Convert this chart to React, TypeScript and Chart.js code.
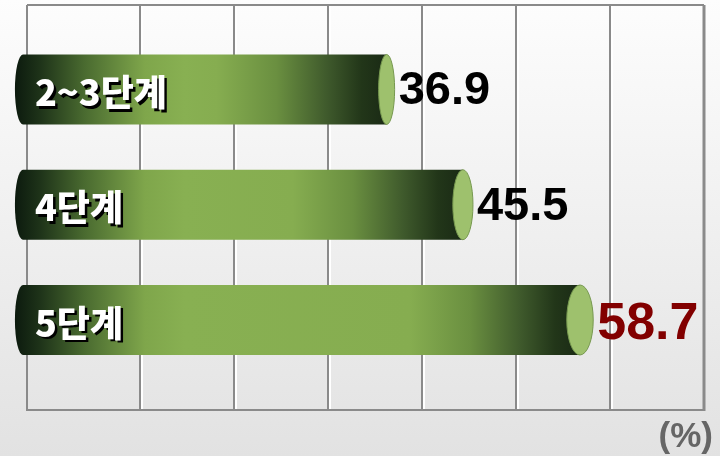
import React, { useEffect, useRef } from "react";
import { Chart, registerables } from "chart.js";

Chart.register(...registerables);

const categories = ["2~3단계", "4단계", "5단계"];
const values = [36.9, 45.5, 58.7];
const gridTicks = [9.1, 19.7, 30.3, 40.9, 51.5, 62.1];
const unitLabel = "(%)";
const highlightIndex = 2;

const X_MIN = -3.64;
const X_MAX = 72.68;
const BAR_BASE = -4.1;

function barGradient(ctx: CanvasRenderingContext2D, x0: number, x1: number) {
  const L = x1 - x0;
  const g = ctx.createLinearGradient(x0, 0, x1, 0);
  const f = (px: number) => Math.max(0, Math.min(1, px / L));
  g.addColorStop(0, "#0c1a0e");
  g.addColorStop(f(25), "#1e3319");
  g.addColorStop(f(70), "#4a6b30");
  g.addColorStop(f(130), "#7fa64b");
  g.addColorStop(f(170), "#88b052");
  g.addColorStop(f(L - 170), "#86ad50");
  g.addColorStop(f(L - 110), "#6a8f40");
  g.addColorStop(f(L - 60), "#3f5a2c");
  g.addColorStop(f(L - 25), "#223619");
  g.addColorStop(1, "#1a2a15");
  return g;
}

const framePlugin = {
  id: "frame",
  beforeDatasetsDraw(chart: any) {
    const { ctx, chartArea } = chart;
    const { left, right, top, bottom } = chartArea;
    const xs = chart.scales.x;
    ctx.save();
    ctx.fillStyle = "#ffffff";
    xs.ticks.forEach((t: any) => {
      const px = Math.round(xs.getPixelForValue(t.value));
      ctx.fillRect(px + 1, top, 2, bottom - top);
    });
    ctx.strokeStyle = "#8a8a8a";
    ctx.lineWidth = 2;
    ctx.beginPath();
    ctx.moveTo(left, top);
    ctx.lineTo(right, top);
    ctx.moveTo(left, top);
    ctx.lineTo(left, bottom);
    ctx.moveTo(left - 1, bottom);
    ctx.lineTo(right + 1, bottom);
    ctx.stroke();
    ctx.lineWidth = 3;
    ctx.beginPath();
    ctx.moveTo(right, top);
    ctx.lineTo(right, bottom + 1);
    ctx.stroke();
    ctx.restore();
  },
};

const cylinderPlugin = {
  id: "cylinders",
  afterDatasetsDraw(chart: any) {
    const { ctx } = chart;
    const meta = chart.getDatasetMeta(0);
    ctx.save();
    meta.data.forEach((el: any, i: number) => {
      const { x, y, base, height } = el.getProps(["x", "y", "base", "height"], true);
      const h = Math.abs(height);
      const top = y - h / 2;
      const bottom = y + h / 2;
      const lrx = 8;
      ctx.beginPath();
      ctx.moveTo(base, top);
      ctx.lineTo(x, top);
      ctx.lineTo(x, bottom);
      ctx.lineTo(base, bottom);
      ctx.ellipse(base, y, lrx, h / 2, 0, Math.PI / 2, (3 * Math.PI) / 2);
      ctx.closePath();
      ctx.fillStyle = barGradient(ctx, base - lrx, x);
      ctx.fill();
      const rx = Math.max(6, (x - 90) / 37);
      ctx.beginPath();
      ctx.ellipse(x, y, rx, h / 2, 0, 0, Math.PI * 2);
      ctx.fillStyle = "#9ec16d";
      ctx.fill();
      ctx.lineWidth = 1;
      ctx.strokeStyle = "#76984f";
      ctx.stroke();

      ctx.font = "900 36px 'Noto Sans CJK KR', sans-serif";
      ctx.textAlign = "left";
      ctx.textBaseline = "middle";
      const lx = base + 12;
      const ly = y + 3;
      ctx.fillStyle = "#000000";
      ctx.fillText(categories[i], lx + 2.5, ly + 2.5);
      ctx.fillStyle = "#ffffff";
      ctx.fillText(categories[i], lx, ly);

      const hi = i === highlightIndex;
      const size = hi ? 52 : 47;
      ctx.font = `bold ${size}px 'Liberation Sans', Arial, sans-serif`;
      ctx.textBaseline = "alphabetic";
      ctx.fillStyle = hi ? "#820000" : "#000000";
      const capH = 0.716 * size;
      ctx.fillText(values[i].toFixed(1), x + rx + 4, y + capH / 2 - (hi ? 0 : 2));
    });

    const { chartArea } = chart;
    ctx.font = "bold 35px 'Liberation Sans', Arial, sans-serif";
    ctx.fillStyle = "#666666";
    ctx.textAlign = "right";
    ctx.textBaseline = "alphabetic";
    ctx.fillText(unitLabel, chartArea.right + 9, 447);
    ctx.restore();
  },
};

export default function App() {
  const ref = useRef<HTMLCanvasElement | null>(null);
  useEffect(() => {
    if (!ref.current) return;
    const chart = new Chart(ref.current, {
      type: "bar",
      data: {
        datasets: [
          {
            data: values.map((v, i) => ({ x: v, y: i })) as any,
            base: BAR_BASE,
            barThickness: 70,
            backgroundColor: "rgba(0,0,0,0)",
            borderWidth: 0,
          } as any,
        ],
      },
      options: {
        indexAxis: "y",
        animation: false,
        responsive: false,
        events: [],
        layout: { padding: { left: 27, top: 5, right: 16, bottom: 46 } },
        plugins: { legend: { display: false }, tooltip: { enabled: false } },
        scales: {
          x: {
            type: "linear",
            min: X_MIN,
            max: X_MAX,
            afterBuildTicks: (scale: any) => {
              scale.ticks = gridTicks.map((v) => ({ value: v }));
            },
            ticks: { display: false },
            grid: { color: "#8a8a8a", lineWidth: 2, drawTicks: false },
            border: { display: false },
          },
          y: {
            type: "linear",
            min: -0.733,
            max: 2.781,
            reverse: true,
            offset: false,
            grid: { offset: false },
            display: false,
          },
        },
      } as any,
      plugins: [framePlugin, cylinderPlugin],
    });
    return () => chart.destroy();
  }, []);
  return (
    <div
      style={{
        position: "fixed",
        left: 0,
        top: 0,
        width: 720,
        height: 456,
        background: "linear-gradient(#fdfdfd, #e2e2e2)",
      }}
    >
      <canvas ref={ref} width={720} height={456} style={{ display: "block" }} />
    </div>
  );
}
